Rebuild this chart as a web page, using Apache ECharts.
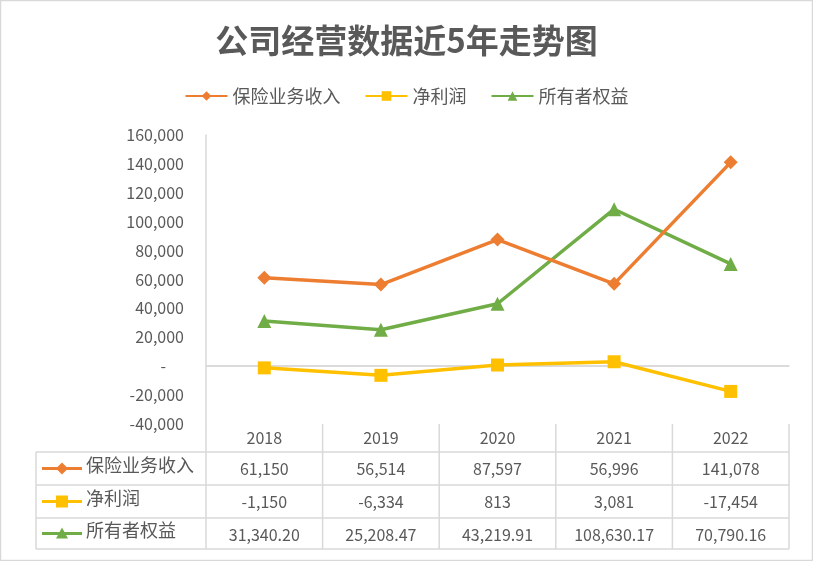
<!DOCTYPE html>
<html>
<head>
<meta charset="utf-8">
<script src="https://cdn.jsdelivr.net/npm/echarts@6/dist/echarts.min.js"></script>
<style>
  html, body { margin: 0; padding: 0; background: #fff; }
  #main { width: 813px; height: 561px; }
</style>
</head>
<body>
<div id="main"></div>
<script>
var years = ['2018', '2019', '2020', '2021', '2022'];
var names = ['保险业务收入', '净利润', '所有者权益'];
var income = [61150, 56514, 87597, 56996, 141078];
var profit = [-1150, -6334, 813, 3081, -17454];
var equity = [31340.20, 25208.47, 43219.91, 108630.17, 70790.16];
var yTicks = [-40000, 160000, 20000]; // min, max, interval

var colors = ['#ED7D31', '#FFC000', '#70AD47'];
var symbols = ['diamond', 'rect', 'triangle'];
var gray = '#595959';
var lineGray = '#d9d9d9';
var font = '"Noto Sans CJK SC", "Noto Sans", sans-serif';

function fmt(v, dec) {
    return v.toLocaleString('en-US', { minimumFractionDigits: dec, maximumFractionDigits: dec });
}

var chart = echarts.init(document.getElementById('main'));

// 表格的边框和左侧图例
var rowY = [452, 485, 518, 549];
var tableTop = 424;
var graphics = [
    { type: 'rect', shape: { x: 0.5, y: 0.5, width: 812, height: 560 }, style: { fill: 'none', stroke: lineGray, lineWidth: 1.5 }, silent: true }
];
rowY.forEach(function (y) {
    graphics.push({ type: 'line', shape: { x1: 36, y1: y, x2: 789, y2: y }, style: { stroke: lineGray, lineWidth: 1.5 }, silent: true });
});
graphics.push({ type: 'line', shape: { x1: 36, y1: 452, x2: 36, y2: 549 }, style: { stroke: lineGray, lineWidth: 1.5 }, silent: true });
names.forEach(function (n, i) {
    var cy = (rowY[i] + rowY[i + 1]) / 2;
    graphics.push({ type: 'line', shape: { x1: 42, y1: cy, x2: 82, y2: cy }, style: { stroke: colors[i], lineWidth: 3 }, silent: true });
    var mark;
    if (i === 0) mark = { type: 'polygon', shape: { points: [[62, cy - 6], [68, cy], [62, cy + 6], [56, cy]] } };
    else if (i === 1) mark = { type: 'rect', shape: { x: 56, y: cy - 6, width: 12, height: 12 } };
    else mark = { type: 'polygon', shape: { points: [[62, cy - 6], [68, cy + 5], [56, cy + 5]] } };
    mark.style = { fill: colors[i] };
    mark.silent = true;
    graphics.push(mark);
    graphics.push({ type: 'text', left: 86, top: cy - 12, style: { text: n, fill: gray, font: '18px ' + font }, silent: true });
});

var option = {
    title: {
        text: '公司经营数据近5年走势图',
        left: 'center',
        top: 19,
        textStyle: { fontSize: 33, fontWeight: 'bold', color: gray, fontFamily: font }
    },
    legend: {
        data: names,
        top: 82,
        left: 'center',
        itemWidth: 42,
        itemHeight: 12,
        itemGap: 24,
        textStyle: { fontSize: 18, color: gray, fontFamily: font }
    },
    grid: { left: 206, right: 24, top: 135, bottom: 137 },
    xAxis: {
        type: 'category',
        data: years,
        axisLine: { lineStyle: { color: lineGray, width: 1.5 } },
        axisTick: { show: false },
        axisLabel: {
            margin: 0,
            interval: 0,
            formatter: function (v, i) {
                return '{y|' + v + '}\n{v|' + fmt(income[i], 0) + '}\n{v|' + fmt(profit[i], 0) + '}\n{v|' + fmt(equity[i], 2) + '}';
            },
            rich: {
                y: { fontSize: 16, color: gray, lineHeight: 28, fontFamily: font },
                v: { fontSize: 16, color: gray, lineHeight: 33, fontFamily: font }
            }
        }
    },
    yAxis: {
        type: 'value',
        min: yTicks[0],
        max: yTicks[1],
        interval: yTicks[2],
        axisLine: { show: true, lineStyle: { color: lineGray, width: 1.5 } },
        axisTick: { show: false },
        splitLine: { show: false },
        axisLabel: {
            fontSize: 16,
            color: gray,
            fontFamily: font,
            margin: 22,
            formatter: function (v) { return v === 0 ? '-     ' : fmt(v, 0); }
        }
    },
    series: [income, profit, equity].map(function (d, i) {
        var s = {
            name: names[i],
            type: 'line',
            data: d,
            symbol: symbols[i],
            symbolSize: i === 1 ? 13 : 14,
            lineStyle: { color: colors[i], width: 3.5 },
            itemStyle: { color: colors[i] },
            z: 3 - i
        };
        if (i === 0) {
            s.markLine = {
                silent: true,
                symbol: 'none',
                label: { show: false },
                lineStyle: { color: lineGray, type: 'solid', width: 1.5 },
                data: [{ yAxis: 0 }],
                z: 1
            };
        }
        return s;
    }),
    graphic: graphics
};

chart.setOption(option);

// 按分类轴的位置画表格竖线
var c0 = chart.convertToPixel({ xAxisIndex: 0 }, 0);
var c1 = chart.convertToPixel({ xAxisIndex: 0 }, 1);
var half = (c1 - c0) / 2;
var vlines = [];
for (var k = 0; k <= years.length; k++) {
    var x = c0 - half + k * half * 2;
    vlines.push({ type: 'line', shape: { x1: x, y1: tableTop, x2: x, y2: rowY[rowY.length - 1] }, style: { stroke: lineGray, lineWidth: 1.5 }, silent: true });
}
chart.setOption({ graphic: graphics.concat(vlines) });
</script>
</body>
</html>
